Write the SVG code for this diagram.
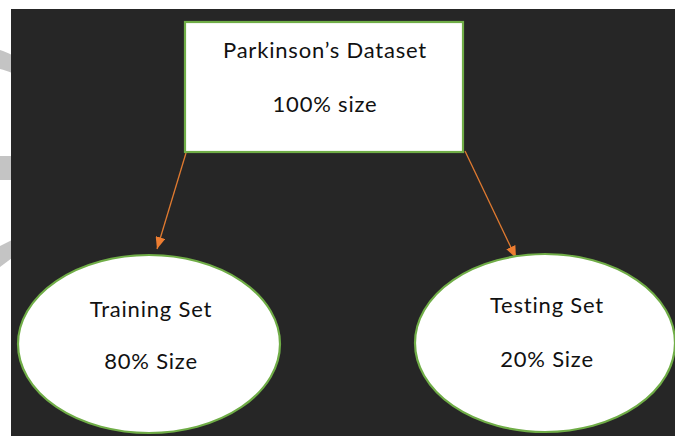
<svg xmlns="http://www.w3.org/2000/svg" width="675" height="436" viewBox="0 0 675 436">
<defs>
<style>
.node{fill:#ffffff;stroke:#70ad47;stroke-width:2.2}
.lbl{font-family:Lato,"Open Sans","Liberation Sans",sans-serif;font-size:22px;letter-spacing:0.8px;fill:#111111;text-anchor:middle}
.edge{stroke:#e07a30;stroke-width:1.3;fill:none}
</style>
<marker id="ah" viewBox="0 0 12 10" refX="12" refY="5" markerWidth="12" markerHeight="10" markerUnits="userSpaceOnUse" orient="auto">
<path d="M0,0 L12,5 L0,10 Z" fill="#ed7d31"/>
</marker>
</defs>
<rect x="0" y="0" width="675" height="436" fill="#ffffff"/>
<g fill="#c4c4c4">
<path d="M0,50 C4,51 8,53 12,55 L12,73 C8,71 4,70 0,69 Z"/>
<path d="M0,156 L12,156 L12,180 L0,180 Z"/>
<path d="M0,246 C4,244 8,242 12,240 L12,258 C8,261 4,264 0,267 Z"/>
</g>
<rect x="11" y="9" width="664" height="427" fill="#262626"/>
<g id="connectors">
<line class="edge" x1="186" y1="153" x2="157" y2="249" marker-end="url(#ah)"/>
<line class="edge" x1="465" y1="151" x2="516" y2="258" marker-end="url(#ah)"/>
</g>
<g id="dataset">
<rect class="node" x="185" y="22" width="278" height="130"/>
<text class="lbl" x="325" y="58">Parkinson’s Dataset</text>
<text class="lbl" x="325" y="111.5">100% size</text>
</g>
<g id="training">
<ellipse class="node" cx="149" cy="344" rx="131" ry="89"/>
<text class="lbl" x="151" y="317">Training Set</text>
<text class="lbl" x="151" y="369">80% Size</text>
</g>
<g id="testing">
<ellipse class="node" cx="545" cy="343" rx="130" ry="89"/>
<text class="lbl" x="547" y="313">Testing Set</text>
<text class="lbl" x="547" y="367">20% Size</text>
</g>
</svg>
